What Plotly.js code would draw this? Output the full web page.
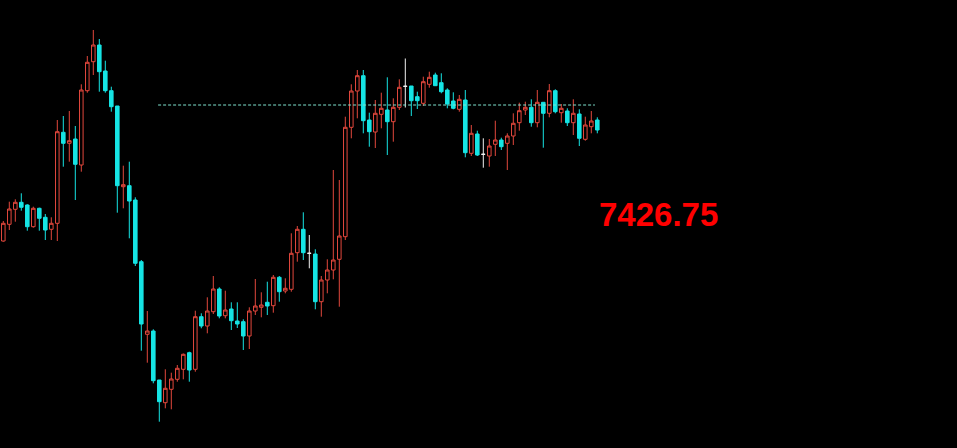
<!DOCTYPE html>
<html>
<head>
<meta charset="utf-8">
<script src="https://cdn.plot.ly/plotly-3.0.1.min.js"></script>
<style>
  html, body { margin: 0; padding: 0; background: #000; }
  #chart { width: 957px; height: 448px; }
</style>
</head>
<body>
<div id="chart"></div>
<script>
// ---- data (bar index, OHLC) ----
const openP  = [7319,7335.7,7350.7,7357.7,7355,7333.3,7351.7,7342.7,7330.7,7336.7,
  7427.7,7416.7,7421,7395,7469.3,7498.3,7515,7489,7469.3,7454,
  7373.3,7374.3,7360,7298.3,7225.7,7229,7180,7157.3,7170.7,7180.7,
  7190.7,7207.3,7190.7,7243.3,7234,7248.3,7271,7244.3,7251,7239,
  7238.3,7224,7249,7252.7,7257.7,7254.3,7282.7,7269,7270.7,7307.3,
  7330.7,7306.7,7306,7258.3,7280,7290,7300.7,7323.3,7432.7,7469,
  7484.3,7440,7428,7445.7,7450,7438.3,7452.7,7473.7,7474,7463.3,
  7456.7,7475.7,7485,7477.3,7470,7459,7450.7,7460,7406.7,7426,
  7405.7,7404,7415.7,7420,7416.7,7424,7437.3,7450,7452.7,7437.3,
  7457.7,7446.7,7469.3,7447.3,7449,7437.3,7446,7420.7,7433.3,7440];
const highP  = [7339,7358.3,7360.7,7366.7,7355.7,7353.3,7352.3,7346,7342.7,7440,
  7444,7449,7434,7475.7,7504,7530,7521,7499.3,7473.3,7454,
  7394.3,7398.3,7362.7,7300,7249,7230.7,7180,7190.7,7187.3,7195,
  7206.5,7208.3,7249.3,7246.7,7262.7,7284,7272.7,7269.3,7257.7,7257.7,
  7240.7,7252.7,7281,7267.7,7278.3,7285,7284,7281.7,7326.7,7334,
  7347.7,7325,7310.7,7284,7300.7,7390,7380,7443.3,7475.7,7490,
  7490,7447.3,7460,7467.3,7482.7,7461.7,7480.7,7501.5,7474,7468.3,
  7483.3,7488.3,7487.3,7486.7,7471.7,7467.7,7465,7470,7435,7429.3,
  7421.7,7421,7439.3,7422.3,7426.7,7446.7,7457.3,7458.3,7460.7,7470,
  7457.7,7476,7470.7,7456,7451.7,7460.7,7450.7,7443.3,7449,7442.7];
const lowP   = [7318.3,7330,7338.3,7349.3,7329.3,7332.3,7329.3,7320,7320,7319,
  7393.3,7398.3,7360,7388.3,7467.3,7485,7468.3,7467.3,7448.3,7347.3,
  7351.7,7321.7,7294,7209.3,7197.3,7176.7,7138.3,7151.7,7150.7,7178.3,
  7180.7,7178.3,7188.3,7231.7,7226.7,7246,7241.7,7241.7,7230,7232,
  7210,7211,7245,7242.7,7245,7247.3,7258.3,7266.7,7268.3,7298.3,
  7300,7291.7,7250.7,7243.3,7266.7,7280.7,7253.3,7320,7421.7,7441.7,
  7426.7,7413.3,7412,7431.7,7405,7418.3,7450,7452.5,7444,7451,
  7454,7472.3,7474,7466.7,7451.7,7450.7,7448.3,7402.7,7404,7404,
  7392.3,7393.3,7404,7410,7390,7415,7429.3,7445,7433.3,7432.7,
  7412.3,7442.7,7446.7,7437.3,7434,7425,7414,7419.3,7426.7,7426.7];
const closeP = [7336.7,7351,7357.7,7352.7,7333.3,7351.7,7341.7,7330,7336.7,7428.3,
  7416.7,7419.3,7395.7,7470,7497.7,7515,7488.3,7469.3,7453.3,7374.3,
  7375.3,7359,7296.7,7236,7229,7179.3,7158.3,7171.7,7181,7191.7,
  7205.7,7190,7243.3,7234,7249,7271,7244,7250,7239.3,7236,
  7224,7249,7254,7255,7254,7282.7,7268.3,7271.7,7306.7,7330.7,
  7307.3,7306.7,7258.3,7280,7290,7300,7324,7432.7,7469,7484.3,
  7439.3,7428.3,7446.7,7451.7,7438.3,7452.7,7472.7,7473.7,7459.3,7459.3,
  7478.3,7482.7,7474.3,7468.3,7456,7451.7,7460.7,7407.3,7426.7,7405,
  7405.7,7414,7420,7413.3,7424,7436.7,7449.3,7452.7,7437.3,7457.7,
  7446.7,7469.3,7448.3,7451.7,7437.3,7446.7,7421.7,7435,7439,7430];
const refLevel = 7455;          // dashed reference level
const refSpan  = [25.8, 98.6];  // bar-index span of the dashed line
const priceLabel = "7426.75";

// ---- build traces ----
const idx = openP.map((_, i) => i);
const isDoji = i => openP[i] === closeP[i];
const main = idx.filter(i => !isDoji(i));
const doji = idx.filter(i => isDoji(i));
const pick = (arr, ids) => ids.map(i => arr[i]);

const RED = '#e3483d', CYAN = '#16e4e4', WHITE = '#f2f2f2';

const traces = [
  {
    type: 'candlestick',
    x: main, open: pick(openP, main), high: pick(highP, main),
    low: pick(lowP, main), close: pick(closeP, main),
    increasing: { line: { color: RED, width: 1 }, fillcolor: 'rgba(0,0,0,1)' },
    decreasing: { line: { color: CYAN, width: 1 }, fillcolor: CYAN },
    whiskerwidth: 0, hoverinfo: 'skip', showlegend: false
  },
  {
    type: 'candlestick',
    x: doji, open: pick(openP, doji), high: pick(highP, doji),
    low: pick(lowP, doji), close: pick(closeP, doji),
    increasing: { line: { color: WHITE, width: 1 }, fillcolor: WHITE },
    decreasing: { line: { color: WHITE, width: 1 }, fillcolor: WHITE },
    whiskerwidth: 0, hoverinfo: 'skip', showlegend: false
  },
  {
    type: 'scatter', mode: 'lines',
    x: refSpan, y: [refLevel, refLevel],
    line: { color: '#7fe3cf', width: 1, dash: '3px,2px' },
    hoverinfo: 'skip', showlegend: false
  }
];

const layout = {
  width: 957, height: 448,
  margin: { l: 0, r: 0, t: 0, b: 0 },
  paper_bgcolor: '#000', plot_bgcolor: '#000',
  showlegend: false,
  boxgap: 0.15,
  xaxis: { range: [-0.55, 158.95], visible: false, showgrid: false, zeroline: false,
           rangeslider: { visible: false }, fixedrange: true },
  yaxis: { range: [7112, 7560], visible: false, showgrid: false, zeroline: false, fixedrange: true },
  annotations: [{
    xref: 'paper', yref: 'paper', x: 658 / 957, y: 1 - 214 / 448,
    xanchor: 'center', yanchor: 'middle', showarrow: false,
    text: priceLabel,
    font: { family: 'Liberation Sans, Arial, sans-serif', size: 33, color: '#ff0000', weight: 'bold' }
  }]
};

Plotly.newPlot('chart', traces, layout, { displayModeBar: false, staticPlot: true });
</script>
</body>
</html>
